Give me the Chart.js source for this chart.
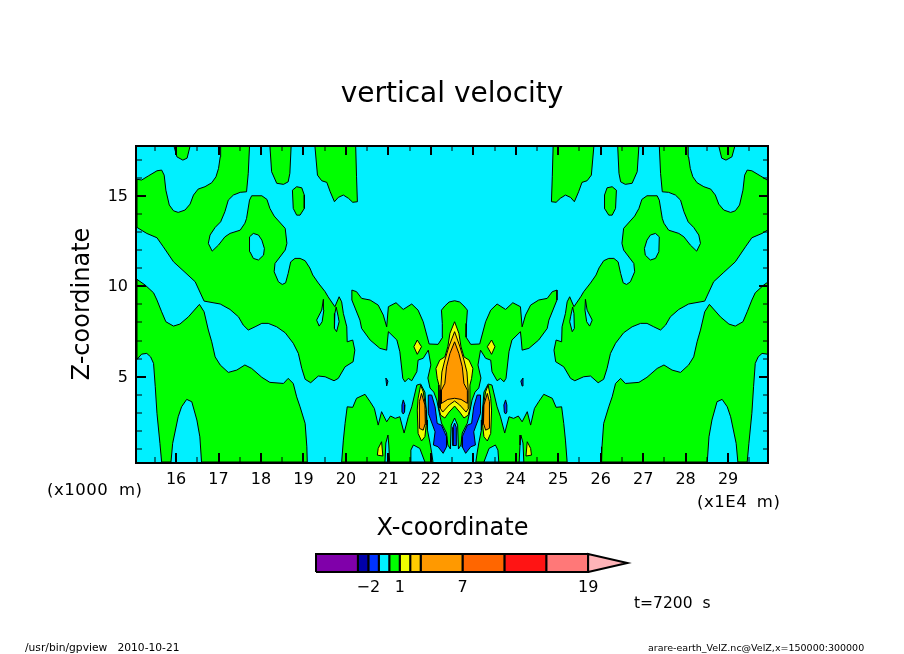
<!DOCTYPE html>
<html>
<head>
<meta charset="utf-8">
<title>vertical velocity</title>
<script src="https://cdn.jsdelivr.net/npm/chart.js@4/dist/chart.umd.min.js"></script>
<style>
  html, body { margin: 0; background: #fff; }
  #wrap { position: relative; width: 904px; height: 654px; overflow: hidden; font-family: "DejaVu Sans", sans-serif; color: #000; }
  canvas { position: absolute; display: block; }
  .note { position: absolute; white-space: pre; line-height: 1; }
</style>
</head>
<body>
<div id="wrap">
  <canvas id="field" width="904" height="654" style="left:0;top:0;width:904px;height:654px"></canvas>
  <canvas id="bar" width="350" height="56" style="left:296px;top:544px;width:350px;height:56px"></canvas>
  <div class="note" style="left:47px;top:482px;font-size:16.5px;letter-spacing:0.5px;word-spacing:5px">(x1000 m)</div>
  <div class="note" style="left:697px;top:494px;font-size:16.5px;letter-spacing:0.5px;word-spacing:4px">(x1E4 m)</div>
  <div class="note" style="left:634px;top:596px;font-size:15.5px;word-spacing:5px">t=7200 s</div>
  <div class="note" style="left:25px;top:643px;font-size:10.7px">/usr/bin/gpview   2010-10-21</div>
  <div class="note" style="left:648px;top:643px;font-size:9.5px">arare-earth_VelZ.nc@VelZ,x=150000:300000</div>
</div>
<script>
// axes
const xRange = [15.08, 29.94];
const zRange = [0.29, 17.75];
const xTickValues = [16, 17, 18, 19, 20, 21, 22, 23, 24, 25, 26, 27, 28, 29];
const xMinorTicks = [15.5, 16.5, 17.5, 18.5, 19.5, 20.5, 21.5, 22.5, 23.5, 24.5, 25.5, 26.5, 27.5, 28.5, 29.5];
const zTickValues = [5, 10, 15];
const zMinorTicks = [1, 2, 3, 4, 6, 7, 8, 9, 11, 12, 13, 14, 16, 17];

// colour bar
const barLevels = [-7, -3, -2, -1, 0, 1, 2, 3, 7, 11, 15, 19];
const barColors = ['#8000aa', '#0000aa', '#0033ff', '#00f0ff', '#00ff00', '#f0ff00', '#ffcc00', '#ff9900', '#ff6600', '#ff1414', '#ff7878'];
const barTop = 22.75;
const barTickValues = [-2, 1, 7, 19];

// contour outlines, x in 1E4 m, z in 1000 m
const greenAZ = [15.91,15.87,16.10,16.38,16.42,16.14,15.31,14.49,14.17,14.08,14.21,14.54,15.04,15.37,15.50,15.72,16.05,16.51,17.15,17.75,17.75,16.24,15.22,15.19,15.04,14.76,14.12,13.56,13.25,12.83,12.37,11.94,12.28,12.73,12.92,13.10,13.48,13.75,14.76,15.00,15.00,14.80,14.30,13.88,13.20,12.37,12.00,11.26,10.80,10.25,10.10,10.19,10.71,11.35,11.54,11.54,11.41,11.01,10.62,10.18,9.70,9.42,8.87,9.42,9.14,8.50,7.76,6.93,7.03,6.47,5.83,5.55,4.91,4.78,5.00,5.04,4.67,4.86,5.46,6.29,6.85,7.43,7.76,7.95,7.95,7.76,7.58,7.86,8.31,8.72,9.02,9.18,10.25,10.77,11.35,12.18,12.68,12.92,13.25];
const greenAX = [15.08,15.19,15.35,15.55,15.66,15.72,15.76,15.84,15.94,16.05,16.21,16.33,16.41,16.52,16.68,16.84,16.94,17.00,17.04,17.05,17.73,17.70,17.66,17.51,17.35,17.23,17.15,17.05,16.92,16.80,16.76,16.85,17.00,17.15,17.27,17.51,17.62,17.66,17.73,17.78,18.02,18.14,18.21,18.31,18.57,18.61,18.57,18.33,18.31,18.41,18.50,18.58,18.64,18.70,18.80,18.92,19.04,19.15,19.22,19.35,19.51,19.58,19.74,19.84,19.90,19.94,20.02,20.03,20.16,20.21,20.17,19.98,19.82,19.72,19.51,19.35,19.17,19.04,18.96,18.88,18.76,18.57,18.37,18.17,18.02,17.86,17.70,17.58,17.47,17.27,17.04,16.66,16.45,16.21,15.94,15.70,15.55,15.31,15.08];
const greenAXr = [30.03,29.92,29.76,29.56,29.45,29.39,29.35,29.27,29.17,29.06,28.90,28.78,28.70,28.59,28.43,28.27,28.17,28.11,28.07,28.06,27.38,27.41,27.45,27.60,27.76,27.88,27.96,28.06,28.19,28.31,28.35,28.26,28.11,27.96,27.84,27.60,27.49,27.45,27.38,27.33,27.09,26.97,26.90,26.80,26.54,26.50,26.54,26.78,26.80,26.70,26.61,26.53,26.47,26.41,26.31,26.19,26.07,25.96,25.89,25.76,25.60,25.53,25.37,25.27,25.21,25.17,25.09,25.08,24.95,24.90,24.94,25.13,25.29,25.39,25.60,25.76,25.94,26.07,26.15,26.23,26.35,26.54,26.74,26.94,27.09,27.25,27.41,27.53,27.64,27.84,28.07,28.45,28.66,28.90,29.17,29.41,29.56,29.80,30.03];

const greenBZ = [10.38,10.07,9.64,9.24,8.59,8.04,7.80,7.91,8.31,9.00,8.59,7.58,6.93,6.10,5.65,5.24,5.37,5.65,5.46,4.97,4.69,4.63,4.91,4.63,3.89,3.34,2.42,1.13,0.29,0.29,1.68,2.61,3.62,3.75,3.34,2.79,1.32,0.29,0.29,1.32,2.98,4.45,5.74,6.10,6.29,6.25,5.96];
const greenBX = [15.08,15.27,15.47,15.55,15.66,15.76,15.94,16.09,16.29,16.55,16.66,16.76,16.84,16.92,17.04,17.23,17.43,17.62,17.78,18.02,18.21,18.53,18.64,18.76,18.84,18.92,19.04,19.08,19.09,16.60,16.56,16.49,16.37,16.25,16.13,16.05,15.92,15.88,15.66,15.62,15.55,15.51,15.47,15.40,15.31,15.19,15.08];
const greenBXr = [30.03,29.84,29.64,29.56,29.45,29.35,29.17,29.02,28.82,28.56,28.45,28.35,28.27,28.19,28.07,27.88,27.68,27.49,27.33,27.09,26.90,26.58,26.47,26.35,26.27,26.19,26.07,26.03,26.02,28.51,28.55,28.62,28.74,28.86,28.98,29.06,29.19,29.23,29.45,29.49,29.56,29.60,29.64,29.71,29.80,29.92,30.03];

const capZ = [17.75,17.15,16.97,17.08,17.75];
const capX = [15.95,16.02,16.16,16.26,16.33];
const capXr = [29.16,29.09,28.95,28.85,28.78];

const ovalZ = [15.31,15.50,15.44,15.04,14.30,13.93,13.93,14.30];
const ovalX = [18.74,18.84,18.96,19.02,19.02,18.92,18.84,18.76];
const ovalXr = [26.37,26.27,26.15,26.09,26.09,26.19,26.27,26.35];

const colOneZ = [17.75,16.33,15.69,15.63,15.77,16.24,17.75];
const colOneX = [18.21,18.25,18.37,18.53,18.64,18.68,18.71];
const colOneXr = [26.90,26.86,26.74,26.58,26.47,26.43,26.40];

const colTwoZ = [17.75,16.14,15.83,15.74,15.22,14.67,14.91,15.04,14.86,14.64,14.67,16.05,17.75];
const colTwoX = [19.27,19.33,19.43,19.55,19.63,19.73,19.82,19.94,20.06,20.16,20.27,20.25,20.23];
const colTwoXr = [25.84,25.78,25.68,25.56,25.48,25.38,25.29,25.17,25.05,24.95,24.84,24.86,24.88];

const centreX = [20.14,20.25,20.37,20.57,20.76,20.88,20.96,21.00,21.18,21.35,21.55,21.70,21.82,21.96,22.17,22.28,22.27,22.25,22.33,22.43,22.56,22.68,22.78,22.86,22.84,22.83,22.94,23.15,23.29,23.41,23.56,23.76,23.93,24.11,24.15,24.23,24.35,24.54,24.74,24.86,24.97,24.97,24.78,24.74,24.54,24.31,24.15,24.13,24.11,23.91,23.84,23.77,23.72,23.64,23.56,23.44,23.41,23.29,23.17,23.11,23.18,23.13,23.04,22.97,22.94,22.86,22.74,22.71,22.65,22.63,22.56,22.48,22.46,22.40,22.37,22.25,22.17,22.14,22.07,21.98,21.93,22.00,21.94,21.82,21.70,21.67,21.55,21.47,21.39,21.34,21.27,21.20,21.00,20.98,20.96,20.80,20.57,20.37,20.33,20.14];
const centreZ = [9.79,9.70,9.33,9.24,8.96,8.41,7.76,8.87,9.09,8.72,9.02,8.68,8.04,6.81,6.79,7.19,7.95,8.68,8.91,9.13,9.20,9.13,8.91,8.68,7.95,7.19,6.79,6.81,8.04,8.68,9.02,8.72,9.09,8.87,7.76,8.41,8.96,9.24,9.33,9.70,9.79,9.24,8.13,7.67,7.03,6.57,6.47,7.03,7.49,7.03,6.38,4.91,4.72,4.91,4.78,5.28,5.92,6.02,6.47,5.65,4.93,4.38,4.15,3.71,3.34,2.44,1.89,1.23,1.01,2.33,2.72,2.33,1.01,1.23,1.89,2.44,3.34,3.71,4.15,4.38,4.93,5.65,6.47,6.02,5.92,5.28,4.78,4.91,4.72,4.91,6.38,7.03,7.49,7.03,6.47,6.57,7.03,7.67,8.13,9.24];

const lowZ = [0.29,1.50,2.42,3.34,3.31,3.81,4.03,3.62,3.25,2.33,3.07,2.51,2.83,2.70,2.79,1.89,2.79,3.34,4.54,4.60,4.15,2.61,2.05,1.34,0.79,0.29];
const lowX = [19.90,19.94,19.98,20.03,20.16,20.25,20.45,20.57,20.67,20.76,20.84,20.96,21.05,21.16,21.27,21.37,21.47,21.55,21.67,21.76,21.86,21.91,21.92,21.98,22.02,22.05];
const lowXr = [25.21,25.17,25.13,25.08,24.95,24.86,24.66,24.54,24.44,24.35,24.27,24.15,24.06,23.95,23.84,23.74,23.64,23.56,23.44,23.35,23.25,23.20,23.19,23.13,23.09,23.06];

// cyan pockets inside the green
const holeOneZ = [12.73,12.92,12.83,12.55,12.09,11.72,11.45,11.54,11.91];
const holeOneX = [17.73,17.82,17.94,18.02,18.08,18.06,17.94,17.82,17.74];
const holeOneXr = [27.38,27.29,27.17,27.09,27.03,27.05,27.17,27.29,27.37];
const holeTwoZ = [9.28,8.68,8.13,7.80,8.04,8.68];
const holeTwoX = [19.47,19.43,19.31,19.37,19.44,19.48];
const holeTwoXr = [25.64,25.68,25.80,25.74,25.67,25.63];
const holeThreeZ = [8.85,8.50,7.67,7.49,8.04,8.31];
const holeThreeX = [19.77,19.74,19.73,19.78,19.84,19.82];
const holeThreeXr = [25.34,25.37,25.38,25.33,25.27,25.29];
const holeFootZ = [0.29,0.95,1.23,1.04,0.29];
const holeFootX = [21.51,21.53,21.59,21.74,21.86];
const holeFootXr = [23.60,23.58,23.52,23.37,23.25];
const holeSlitZ = [0.29,1.34,1.78,1.23,0.29];
const holeSlitX = [20.92,20.94,20.99,21.01,21.03];
const holeSlitXr = [24.19,24.17,24.12,24.10,24.08];

// small positive patches
const triZ = [0.67,1.04,1.41,0.62];
const triX = [20.74,20.76,20.84,20.87];
const triXr = [24.37,24.35,24.27,24.24];
const diamondZ = [7.03,6.66,6.24,6.66];
const diamondX = [21.68,21.78,21.68,21.60];
const diamondXr = [23.43,23.33,23.43,23.51];
const sideYellowZ = [4.54,4.17,3.16,2.33,1.69,1.45,1.87,3.16,3.81];
const sideYellowX = [21.76,21.82,21.89,21.89,21.86,21.78,21.70,21.68,21.70];
const sideYellowXr = [23.35,23.29,23.22,23.22,23.25,23.33,23.41,23.43,23.41];
const sideOrangeZ = [4.08,3.44,2.43,2.05,2.15,3.62];
const sideOrangeX = [21.78,21.86,21.87,21.82,21.73,21.73];
const sideOrangeXr = [23.33,23.25,23.24,23.29,23.38,23.38];

// central flame
const flameYellowX = [22.56,22.45,22.40,22.33,22.21,22.12,22.15,22.19,22.19,22.23,22.33,22.43,22.56,22.68,22.78,22.88,22.92,22.92,22.96,22.99,22.90,22.78,22.71,22.66];
const flameYellowZ = [8.04,7.40,6.66,6.10,5.92,5.46,4.91,4.54,3.25,2.88,2.72,3.05,3.38,3.05,2.72,2.88,3.25,4.54,4.91,5.46,5.92,6.10,6.66,7.40];
const flameGoldX = [22.56,22.43,22.33,22.26,22.23,22.22,22.28,22.43,22.56,22.68,22.83,22.89,22.88,22.85,22.78,22.68];
const flameGoldZ = [7.49,6.70,5.92,5.26,4.26,3.27,3.05,3.44,3.66,3.44,3.05,3.27,4.26,5.26,5.92,6.70];
const flameOrangeX = [22.56,22.45,22.37,22.33,22.25,22.25,22.40,22.56,22.71,22.86,22.86,22.78,22.74,22.66];
const flameOrangeZ = [6.93,6.29,5.55,4.63,4.26,3.53,3.75,3.81,3.75,3.53,4.26,4.63,5.55,6.29];

// negative patches
const blueZ = [3.99,3.99,3.34,2.42,2.33,1.69,1.13,0.77,1.13,1.23,1.96,2.98];
const blueX = [21.94,22.02,22.10,22.15,22.25,22.37,22.37,22.29,22.17,22.06,22.10,21.94];
const blueXr = [23.17,23.09,23.01,22.96,22.86,22.74,22.74,22.82,22.94,23.05,23.01,23.17];
const coreZ = [2.44,2.20,1.20,1.20,2.20];
const coreX = [22.56,22.52,22.52,22.60,22.60];
const speckZ = [3.72,3.44,3.05,2.94,3.05,3.44];
const speckX = [21.35,21.39,21.38,21.35,21.32,21.32];
const speckXr = [23.76,23.72,23.73,23.76,23.79,23.79];
const dotZ = [4.93,4.76,4.49];
const dotX = [20.94,20.99,20.96];
const dotXr = [24.17,24.12,24.15];

const GREEN = '#00ff00', CYAN = '#00f0ff', BLUE = '#0033ff';
const YELLOW = '#f0ff00', GOLD = '#ffcc00', ORANGE = '#ff9900';

// closes an outline by repeating its first point
const ring = (xs, zs) => xs.concat(xs[0]).map((x, i) => ({ x, y: zs[i % zs.length] }));

// listed in paint order, first at the bottom
const layers = [
  [greenAX, greenAZ, GREEN], [greenAXr, greenAZ, GREEN],
  [greenBX, greenBZ, GREEN], [greenBXr, greenBZ, GREEN],
  [capX, capZ, GREEN], [capXr, capZ, GREEN],
  [ovalX, ovalZ, GREEN], [ovalXr, ovalZ, GREEN],
  [colOneX, colOneZ, GREEN], [colOneXr, colOneZ, GREEN],
  [colTwoX, colTwoZ, GREEN], [colTwoXr, colTwoZ, GREEN],
  [lowX, lowZ, GREEN], [lowXr, lowZ, GREEN],
  [centreX, centreZ, GREEN],
  [holeOneX, holeOneZ, CYAN], [holeOneXr, holeOneZ, CYAN],
  [holeTwoX, holeTwoZ, CYAN], [holeTwoXr, holeTwoZ, CYAN],
  [holeThreeX, holeThreeZ, CYAN], [holeThreeXr, holeThreeZ, CYAN],
  [holeFootX, holeFootZ, CYAN], [holeFootXr, holeFootZ, CYAN],
  [holeSlitX, holeSlitZ, CYAN], [holeSlitXr, holeSlitZ, CYAN],
  [triX, triZ, YELLOW], [triXr, triZ, YELLOW],
  [diamondX, diamondZ, YELLOW], [diamondXr, diamondZ, YELLOW],
  [sideYellowX, sideYellowZ, YELLOW], [sideYellowXr, sideYellowZ, YELLOW],
  [sideOrangeX, sideOrangeZ, ORANGE], [sideOrangeXr, sideOrangeZ, ORANGE],
  [flameYellowX, flameYellowZ, YELLOW],
  [flameGoldX, flameGoldZ, GOLD],
  [flameOrangeX, flameOrangeZ, ORANGE],
  [blueX, blueZ, BLUE], [blueXr, blueZ, BLUE],
  [coreX, coreZ, BLUE],
  [speckX, speckZ, BLUE], [speckXr, speckZ, BLUE],
  [dotX, dotZ, BLUE], [dotXr, dotZ, BLUE]
];

const polygon = (data, color, width, order, clip) => ({
  data, order, clip, showLine: true, fill: 'shape',
  backgroundColor: color, borderColor: '#000', borderWidth: width,
  pointRadius: 0, tension: 0
});

// inward ticks on all four sides plus the frame
const frame = {
  id: 'frame',
  afterDatasetsDraw(chart) {
    const { ctx, chartArea: a, scales: { x, y } } = chart;
    const mark = (x1, y1, x2, y2, w) => {
      ctx.lineWidth = w;
      ctx.beginPath(); ctx.moveTo(x1, y1); ctx.lineTo(x2, y2); ctx.stroke();
    };
    ctx.save();
    ctx.strokeStyle = '#000';
    const xTicks = (vals, len, w) => vals.forEach(v => {
      const px = Math.round(x.getPixelForValue(v));
      mark(px, a.bottom, px, a.bottom - len, w);
      mark(px, a.top, px, a.top + len, w);
    });
    const yTicks = (vals, len, w) => vals.forEach(v => {
      const py = Math.round(y.getPixelForValue(v));
      mark(a.left, py, a.left + len, py, w);
      mark(a.right, py, a.right - len, py, w);
    });
    xTicks(xMinorTicks, 5, 1); xTicks(xTickValues, 9, 2);
    yTicks(zMinorTicks, 5, 1); yTicks(zTickValues, 9, 2);
    ctx.lineWidth = 2;
    ctx.strokeRect(a.left - 1, a.top, a.right - a.left + 1, a.bottom - a.top + 1);
    ctx.restore();
  }
};

new Chart(document.getElementById('field'), {
  type: 'scatter',
  plugins: [frame],
  data: {
    datasets: [
      polygon(ring([xRange[0], xRange[1], xRange[1], xRange[0]], [zRange[0], zRange[0], zRange[1], zRange[1]]), CYAN, 0, layers.length + 1, 0),
      ...layers.map((l, i) => polygon(ring(l[0], l[1]), l[2], 1, layers.length - i, 0))
    ]
  },
  options: {
    responsive: false,
    animation: false,
    devicePixelRatio: 1,
    layout: { autoPadding: false },
    plugins: {
      legend: { display: false },
      tooltip: { enabled: false },
      title: {
        display: true, text: 'vertical velocity', color: '#000',
        font: { family: 'DejaVu Sans', size: 28, weight: 'normal', lineHeight: 1.2 },
        padding: { top: 78, bottom: 34.4 }
      }
    },
    scales: {
      x: {
        type: 'linear', min: xRange[0], max: xRange[1],
        afterBuildTicks: s => { s.ticks = xTickValues.map(value => ({ value })); },
        afterFit: s => { s.height = 192; },
        grid: { display: false, drawTicks: false },
        border: { display: false },
        ticks: { autoSkip: false, maxRotation: 0, padding: 8, color: '#000', font: { family: 'DejaVu Sans', size: 16 }, callback: v => String(v) },
        title: {
          display: true, text: 'X-coordinate', color: '#000',
          font: { family: 'DejaVu Sans', size: 24, lineHeight: 1.2 },
          padding: { top: 0, bottom: 110.6 }
        }
      },
      y: {
        type: 'linear', min: zRange[0], max: zRange[1],
        afterBuildTicks: s => { s.ticks = zTickValues.map(value => ({ value })); },
        afterFit: s => { s.width = 137; },
        grid: { display: false, drawTicks: false },
        border: { display: false },
        ticks: { autoSkip: false, padding: 9, labelOffset: 1, color: '#000', font: { family: 'DejaVu Sans', size: 16 }, callback: v => String(v) },
        title: {
          display: true, text: 'Z-coordinate', color: '#000',
          font: { family: 'DejaVu Sans', size: 24, lineHeight: 1.2 },
          padding: { top: 68.6, bottom: 0 }
        }
      },
      // empty margin on the right so the title centres on the page
      margin: {
        type: 'linear', position: 'right',
        afterFit: s => { s.width = 136; },
        grid: { display: false, drawTicks: false },
        border: { display: false },
        ticks: { display: false }
      }
    }
  }
});

// colour bar, levels on a linear value axis
const barSets = barColors.map((c, i) => {
  const lo = barLevels[i], hi = barLevels[i + 1];
  return polygon(ring([lo, hi, hi, lo], [0, 0, 1, 1]), c, 2, 2, 4);
});
barSets.push(polygon(ring([19, barTop, 19], [0, 0.5, 1]), '#ffb4b8', 2, 1, 4));

new Chart(document.getElementById('bar'), {
  type: 'scatter',
  data: { datasets: barSets },
  options: {
    responsive: false,
    animation: false,
    devicePixelRatio: 1,
    layout: { autoPadding: false, padding: { left: 20, right: 16, top: 10 } },
    plugins: { legend: { display: false }, tooltip: { enabled: false } },
    scales: {
      x: {
        type: 'linear', min: barLevels[0], max: 23,
        afterBuildTicks: s => { s.ticks = barTickValues.map(value => ({ value })); },
        afterFit: s => { s.height = 28; },
        grid: { display: false, drawTicks: false },
        border: { display: false },
        ticks: { autoSkip: false, maxRotation: 0, padding: 6, color: '#000', font: { family: 'DejaVu Sans', size: 16 }, callback: v => String(v).replace('-', '\u2212') }
      },
      y: { display: false, min: 0, max: 1 }
    }
  }
});
</script>
</body>
</html>
